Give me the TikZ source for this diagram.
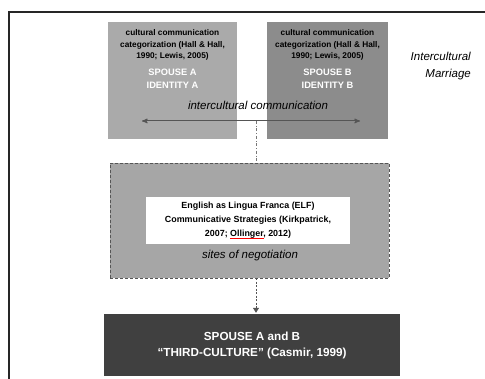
\documentclass[tikz,border=0pt]{standalone}
\usepackage{fontspec}
\setmainfont{Liberation Sans}
\usetikzlibrary{arrows,arrows.meta,positioning}

\definecolor{boxgrayA}{RGB}{170,170,170}
\definecolor{boxgrayB}{RGB}{140,140,140}
\definecolor{sitegray}{RGB}{166,166,166}
\definecolor{thirdgray}{RGB}{64,64,64}
\definecolor{linegray}{RGB}{85,85,85}
\newcommand{\spellmark}[1]{\setbox0\hbox{#1}\rlap{\textcolor{red}{\rule[-1.8pt]{\wd0}{0.7pt}}}#1}

\begin{document}
\begin{tikzpicture}[x=1pt,y=-1pt,>=stealth',
  spouse box/.style={rectangle,minimum height=117pt,inner sep=0pt},
  site box/.style={rectangle,fill=sitegray,draw=linegray,dash pattern=on 3pt off 2pt,
    minimum width=279pt,minimum height=115pt,inner sep=0pt},
  cat text/.style={align=center,inner sep=0pt,anchor=north,
    font=\fontsize{8.3}{11.5}\selectfont\bfseries},
  id text/.style={align=center,inner sep=0pt,text=white,
    font=\fontsize{9.3}{13}\selectfont\bfseries},
  label text/.style={inner sep=0pt,font=\fontsize{11.5}{17}\selectfont\itshape}]

  \useasboundingbox (0,0) rectangle (485,379);
  \draw[line width=1.5pt,black!85] (9,379) -- (9,12) -- (485,12);

  % the two spouses
  \node[spouse box,fill=boxgrayA,minimum width=129pt] (boxA) at (172.5,80.5) {};
  \node[spouse box,fill=boxgrayB,minimum width=121pt,right=30pt of boxA] (boxB) {};
  \node[cat text] (catA) at (172.5,29.5) {cultural communication\\categorization (Hall \& Hall,\\1990; Lewis, 2005)};
  \node[cat text] (catB) at (327.5,29.5) {cultural communication\\categorization (Hall \& Hall,\\1990; Lewis, 2005)};
  \node[id text] (idA) at (172.5,78.5) {SPOUSE A\\IDENTITY A};
  \node[id text] (idB) at (327.5,78.5) {SPOUSE B\\IDENTITY B};
  \node[label text,align=right,anchor=east] (marriage) at (471,66.5) {Intercultural\\Marriage};

  \coordinate (arrL) at (142,121);
  \coordinate (arrR) at (360,121);
  \coordinate (hub) at (256,121);
  \draw[<->,linegray,line width=1pt] (arrL) -- (arrR);
  \node[label text] (comm) at (258,105) {intercultural communication};

  % negotiation
  \node[site box] (sites) at (249.5,220.5) {};
  \node[rectangle,fill=white,minimum width=204pt,minimum height=47pt,inner sep=0pt,
    align=center,font=\fontsize{8.9}{14}\selectfont\bfseries] (elf) at (248,220.5)
    {English as Lingua Franca (ELF)\\Communicative Strategies (Kirkpatrick,\\2007; \spellmark{Ollinger}, 2012)};
  \node[label text] (negot) at (250,256) {sites of negotiation};

  % third culture
  \node[rectangle,fill=thirdgray,minimum width=296pt,minimum height=62pt,inner sep=0pt,
    align=center,text=white,font=\fontsize{11.7}{16}\selectfont\bfseries] (third) at (252,345)
    {SPOUSE A and B\\``THIRD-CULTURE'' (Casmir, 1999)};

  \draw[linegray!80,dash dot,line width=0.6pt] (hub) -- (hub |- sites.north);
  \draw[-{Triangle[width=6pt,length=5pt]},linegray,dash pattern=on 2pt off 1.5pt,line width=0.8pt,shorten >=1pt]
    (hub |- sites.south) -- (hub |- third.north);
\end{tikzpicture}
\end{document}
